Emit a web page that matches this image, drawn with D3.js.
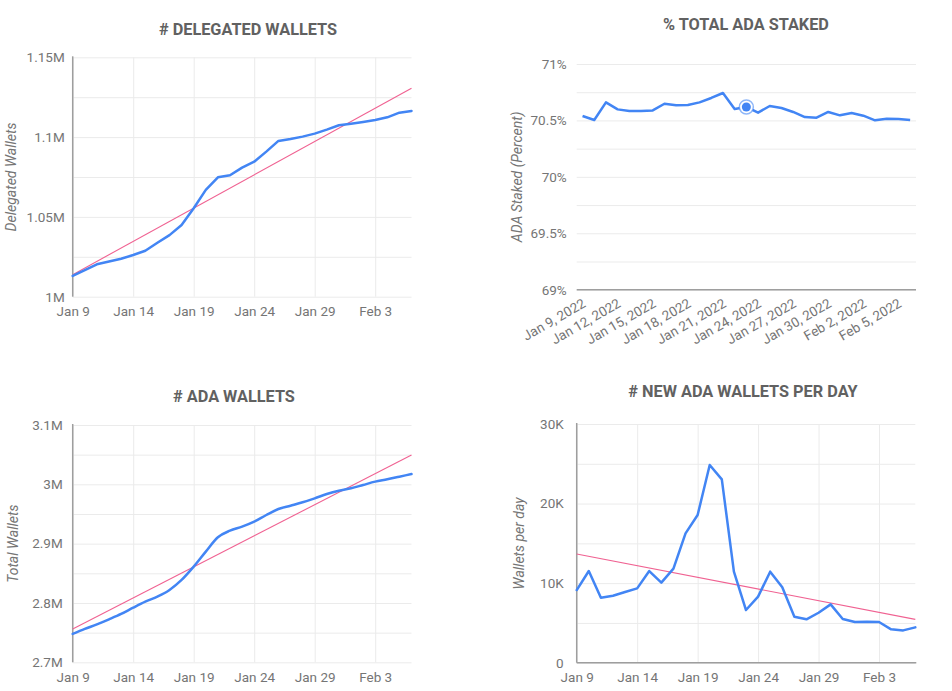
<!DOCTYPE html>
<html>
<head>
<meta charset="utf-8">
<script src="https://cdn.jsdelivr.net/npm/d3@7"></script>
<style>
  html, body { margin: 0; padding: 0; background: #fff; }
  svg { display: block; font-family: Roboto, "Noto Sans", sans-serif; }
</style>
</head>
<body>
<svg id="chart" width="952" height="691"></svg>
<script>
// ---------- DATA ----------
const dates = [
  "2022-01-09","2022-01-10","2022-01-11","2022-01-12","2022-01-13","2022-01-14","2022-01-15",
  "2022-01-16","2022-01-17","2022-01-18","2022-01-19","2022-01-20","2022-01-21","2022-01-22",
  "2022-01-23","2022-01-24","2022-01-25","2022-01-26","2022-01-27","2022-01-28","2022-01-29",
  "2022-01-30","2022-01-31","2022-02-01","2022-02-02","2022-02-03","2022-02-04","2022-02-05",
  "2022-02-06"
];

// # Delegated wallets (millions)
const delegatedWallets = [
  1.0130, 1.0167, 1.0203, 1.0220, 1.0238, 1.0261, 1.0288, 1.0338, 1.0386, 1.0449,
  1.0554, 1.0669, 1.0748, 1.0761, 1.0809, 1.0846, 1.0909, 1.0976, 1.0988, 1.1003,
  1.1022, 1.1047, 1.1074, 1.1084, 1.1095, 1.1107, 1.1124, 1.1153, 1.1164
];
const delegatedTrend = [1.0138, 1.1306];

// % total ADA staked
const stakedPercent = [
  70.539, 70.504, 70.660, 70.598, 70.583, 70.583, 70.589, 70.648, 70.634, 70.637,
  70.660, 70.699, 70.743, 70.601, 70.619, 70.569, 70.628, 70.610, 70.575, 70.530,
  70.524, 70.575, 70.545, 70.566, 70.542, 70.501, 70.515, 70.513, 70.504
];
const stakedHighlightIndex = 14;

// # ADA wallets (millions)
const totalWallets = [
  2.7478, 2.7562, 2.7640, 2.7725, 2.7815, 2.7921, 2.8022, 2.8107, 2.8219, 2.8388,
  2.8612, 2.8865, 2.9107, 2.9219, 2.9287, 2.9371, 2.9483, 2.9584, 2.9640, 2.9697,
  2.9764, 2.9837, 2.9893, 2.9933, 2.9989, 3.0045, 3.0084, 3.0129, 3.0174
];
const totalTrend = [2.7562, 3.0494];

// # new ADA wallets per day (thousands)
const newWallets = [
  9.13, 11.52, 8.17, 8.42, 8.88, 9.34, 11.52, 10.06, 11.82, 16.26,
  18.56, 24.85, 23.04, 11.44, 6.62, 8.30, 11.44, 9.47, 5.78, 5.45,
  6.28, 7.33, 5.49, 5.11, 5.15, 5.11, 4.19, 4.06, 4.44
];
const newTrend = [13.66, 5.45];

// tick labels
const dateTickLabels = ["Jan 9", "Jan 14", "Jan 19", "Jan 24", "Jan 29", "Feb 3"];
const dateTickValues = ["2022-01-09","2022-01-14","2022-01-19","2022-01-24","2022-01-29","2022-02-03"];
const stakedTickLabels = ["Jan 9, 2022","Jan 12, 2022","Jan 15, 2022","Jan 18, 2022","Jan 21, 2022",
  "Jan 24, 2022","Jan 27, 2022","Jan 30, 2022","Feb 2, 2022","Feb 5, 2022"];
const delegatedYTicks = [1.0, 1.05, 1.1, 1.15];
const delegatedYLabels = ["1M", "1.05M", "1.1M", "1.15M"];
const stakedYTicks = [69, 69.5, 70, 70.5, 71];
const stakedYLabels = ["69%", "69.5%", "70%", "70.5%", "71%"];
const totalYTicks = [2.7, 2.8, 2.9, 3.0, 3.1];
const totalYLabels = ["2.7M", "2.8M", "2.9M", "3M", "3.1M"];
const newYTicks = [0, 10, 20, 30];
const newYLabels = ["0", "10K", "20K", "30K"];

// ---------- STYLE ----------
const LINE = "#4285f4";
const TREND = "#f06292";
const GRID = "#ebebeb";
const AXIS = "#9e9e9e";
const TEXT = "#757575";
const TITLE = "#616161";

const svg = d3.select("#chart");
const parse = d3.timeParse("%Y-%m-%d");
const dateObjs = dates.map(parse);

function styleText(sel) {
  sel.attr("fill", TEXT).style("font-size", "13.5px").style("font-family", "Roboto, sans-serif");
}

function title(text, cx, y) {
  svg.append("text").attr("x", cx).attr("y", y).attr("text-anchor", "middle")
    .attr("fill", TITLE).style("font-size", "16.3px").style("font-weight", "bold")
    .style("font-family", "Roboto, sans-serif").text(text);
}

function yTitle(text, cx, cy) {
  svg.append("text").attr("transform", `translate(${cx},${cy}) rotate(-90)`)
    .attr("text-anchor", "middle").attr("dy", "0.35em")
    .attr("fill", TEXT).style("font-size", "14px").style("font-style", "italic")
    .style("font-family", "Roboto, sans-serif").text(text);
}

// time-axis panel
function timePanel(opt) {
  const g = svg.append("g");
  const x = d3.scaleTime().domain([dateObjs[0], dateObjs[dateObjs.length - 1]]).range([opt.x0, opt.x1]);
  const y = d3.scaleLinear().domain(opt.yDomain).range([opt.y0, opt.y1]);
  const w = opt.x1 - opt.x0;
  const h = opt.y0 - opt.y1;
  // horizontal grid
  g.append("g").attr("transform", `translate(${opt.x0},0)`)
    .call(d3.axisLeft(y).tickValues(opt.gridY).tickSize(-w).tickFormat(""))
    .call(s => s.select(".domain").remove())
    .call(s => s.selectAll("line").attr("stroke", GRID).attr("stroke-width", 1));
  // vertical grid
  g.append("g").attr("transform", `translate(0,${opt.y0})`)
    .call(d3.axisBottom(x).tickValues(dateTickValues.map(parse)).tickSize(-h).tickFormat(""))
    .call(s => s.select(".domain").remove())
    .call(s => s.selectAll("line").attr("stroke", GRID).attr("stroke-width", 1));
  // y labels
  g.append("g").attr("transform", `translate(${opt.x0},0)`)
    .call(d3.axisLeft(y).tickValues(opt.yTicks).tickSize(0).tickPadding(opt.yPad)
      .tickFormat((d, i) => opt.yLabels[i]))
    .call(s => s.select(".domain").remove())
    .call(s => s.selectAll("text").call(styleText));
  // x labels
  g.append("g").attr("transform", `translate(0,${opt.y0})`)
    .call(d3.axisBottom(x).tickValues(dateTickValues.map(parse)).tickSize(0).tickPadding(10)
      .tickFormat((d, i) => dateTickLabels[i]))
    .call(s => s.select(".domain").remove())
    .call(s => s.selectAll("text").call(styleText));
  // axis lines
  g.append("line").attr("x1", opt.x0).attr("x2", opt.x0).attr("y1", opt.y1 - 1).attr("y2", opt.y0)
    .attr("stroke", AXIS).attr("stroke-width", 1.5);
  if (opt.bottomAxis) {
    g.append("line").attr("x1", opt.x0).attr("x2", opt.x1 + 1).attr("y1", opt.y0).attr("y2", opt.y0)
      .attr("stroke", AXIS).attr("stroke-width", 1.5);
  }
  // trend
  g.append("line")
    .attr("x1", x(dateObjs[0])).attr("y1", y(opt.trend[0]))
    .attr("x2", x(dateObjs[dateObjs.length - 1])).attr("y2", y(opt.trend[1]))
    .attr("stroke", TREND).attr("stroke-width", 1.1);
  // series
  const line = d3.line().x((d, i) => x(dateObjs[i])).y(d => y(d)).curve(opt.curve || d3.curveLinear);
  g.append("path").datum(opt.values).attr("d", line)
    .attr("fill", "none").attr("stroke", LINE).attr("stroke-width", 2.5)
    .attr("stroke-linejoin", "round").attr("stroke-linecap", "round");
  yTitle(opt.yTitle, opt.yTitleX, (opt.y0 + opt.y1) / 2);
}

// Panel 1: delegated wallets
title("# DELEGATED WALLETS", 248, 34.5);
timePanel({
  x0: 72.7, x1: 411.5, y0: 296.7, y1: 57.3,
  yDomain: [1.0, 1.15], gridY: d3.range(0, 7).map(i => 1.0 + i * 0.025),
  yTicks: delegatedYTicks, yLabels: delegatedYLabels, yPad: 8,
  values: delegatedWallets, trend: delegatedTrend,
  yTitle: "Delegated Wallets", yTitleX: 11, bottomAxis: false
});

// Panel 3: total wallets
title("# ADA WALLETS", 234, 401.5);
timePanel({
  x0: 72.7, x1: 411.5, y0: 662.3, y1: 425,
  yDomain: [2.7, 3.1], gridY: d3.range(0, 9).map(i => 2.7 + i * 0.05),
  yTicks: totalYTicks, yLabels: totalYLabels, yPad: 10,
  values: totalWallets, trend: totalTrend, curve: d3.curveMonotoneX,
  yTitle: "Total Wallets", yTitleX: 13, bottomAxis: false
});

// Panel 4: new wallets per day
title("# NEW ADA WALLETS PER DAY", 743, 396.5);
timePanel({
  x0: 576.7, x1: 915.3, y0: 662.7, y1: 424,
  yDomain: [0, 30], gridY: d3.range(0, 7).map(i => i * 5),
  yTicks: newYTicks, yLabels: newYLabels, yPad: 13,
  values: newWallets, trend: newTrend,
  yTitle: "Wallets per day", yTitleX: 519.5, bottomAxis: true
});

// Panel 2: % total ADA staked (category axis)
title("% TOTAL ADA STAKED", 746, 29.5);
(function () {
  const x0 = 576.7, x1 = 916, y0 = 289.7, y1 = 64;
  const g = svg.append("g");
  const x = d3.scalePoint().domain(dates).range([x0, x1]).padding(0.5);
  const y = d3.scaleLinear().domain([69, 71]).range([y0, y1]);
  g.append("g").attr("transform", `translate(${x0},0)`)
    .call(d3.axisLeft(y).tickValues(d3.range(0, 9).map(i => 69 + i * 0.25)).tickSize(-(x1 - x0)).tickFormat(""))
    .call(s => s.select(".domain").remove())
    .call(s => s.selectAll("line").attr("stroke", GRID));
  g.append("g").attr("transform", `translate(${x0},0)`)
    .call(d3.axisLeft(y).tickValues(stakedYTicks).tickSize(0).tickPadding(10)
      .tickFormat((d, i) => stakedYLabels[i]))
    .call(s => s.select(".domain").remove())
    .call(s => s.selectAll("text").call(styleText));
  g.append("line").attr("x1", x0).attr("x2", x1).attr("y1", y0).attr("y2", y0)
    .attr("stroke", AXIS).attr("stroke-width", 1.5);
  const labelDates = dates.filter((d, i) => i % 3 === 0);
  g.selectAll("text.xl").data(labelDates).join("text").attr("class", "xl")
    .attr("transform", d => `translate(${x(d) + 4},${y0 + 16.5}) rotate(-30)`)
    .attr("text-anchor", "end")
    .call(styleText)
    .text((d, i) => stakedTickLabels[i]);
  const line = d3.line().x((d, i) => x(dates[i])).y(d => y(d));
  g.append("path").datum(stakedPercent).attr("d", line)
    .attr("fill", "none").attr("stroke", LINE).attr("stroke-width", 2.5)
    .attr("stroke-linejoin", "round");
  const hx = x(dates[stakedHighlightIndex]), hy = y(stakedPercent[stakedHighlightIndex]);
  g.append("circle").attr("cx", hx).attr("cy", hy).attr("r", 7)
    .attr("fill", "#fff").attr("stroke", LINE).attr("stroke-opacity", 0.6).attr("stroke-width", 1.5);
  g.append("circle").attr("cx", hx).attr("cy", hy).attr("r", 4.5).attr("fill", LINE);
  yTitle("ADA Staked (Percent)", 517.5, (y0 + y1) / 2);
})();
</script>
</body>
</html>
